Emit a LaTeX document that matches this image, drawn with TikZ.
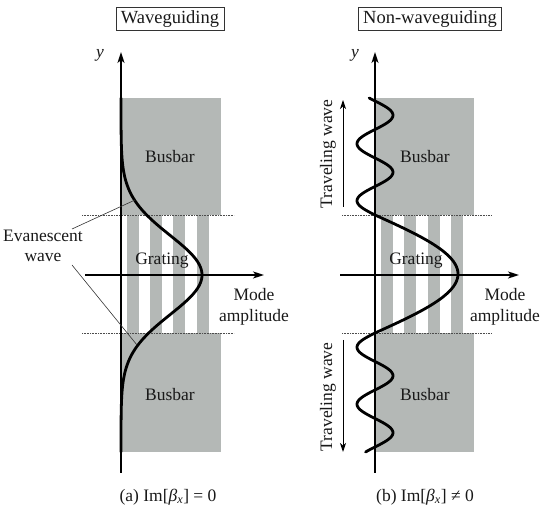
\documentclass[tikz,border=0pt]{standalone}
\usepackage{fontspec}
\setmainfont{Liberation Serif}
\usetikzlibrary{arrows.meta}
\definecolor{busgray}{RGB}{180,184,182}
\begin{document}
\begin{tikzpicture}[x=1pt,y=-1pt,
  lab/.style={font=\fontsize{17.5}{19}\selectfont, text=black!90},
  titlebox/.style={draw=black!80, line width=0.8pt, inner xsep=5pt, inner ysep=3pt, font=\fontsize{18.5}{20}\selectfont, text=black!90},
  axis/.style={line width=1.8pt, -{Stealth[length=11pt,width=7pt,inset=3pt]}},
  wave/.style={line width=2.8pt, line cap=round},
  sep/.style={densely dotted, line width=0.6pt, black!70},
  lead/.style={line width=0.6pt, black!80},
  trav/.style={line width=1pt, -{Stealth[length=9pt,width=6pt,inset=2.5pt]}},
  bar/.style={fill=busgray, draw=none}]
\useasboundingbox (0,0) rectangle (550,518);

% ---------- left panel ----------
\fill[bar] (121,98) rectangle (221,215);
\fill[bar] (121,333) rectangle (221,452);
\foreach \xa in {127,150,173,197}{\fill[bar] (\xa,215) rectangle ++(11.5,118);}
\draw[sep] (82,215) -- (234,215);
\draw[sep] (82,333) -- (234,333);
\coordinate (ayb) at (121,473);
\coordinate (ayt) at (121,52);
\draw[axis] (ayb) -- (ayt);
\coordinate (axl) at (85,275);
\coordinate (axr) at (264,275);
\draw[axis] (axl) -- (axr);
\draw[wave] plot[domain=98:452, samples=200, variable=\t] ({121+81*exp(-1*pow((\t-275)/56,2))}, \t);

\node[titlebox] (ta) at (170,19) {Waveguiding};
\node[lab] (ya) at (100,55) {\itshape y};
\node[lab] (busa1) at (170,157) {Busbar};
\node[lab] (busa2) at (170,395) {Busbar};
\node[lab] (grata) at (162,261) {Grating};
\node[lab, align=center] (modea) at (254,307) {Mode\\[2pt]amplitude};
\node[lab, align=center] (evan) at (43,246) {Evanescent\\[1pt]wave};
\coordinate (ev1) at (72,229);
\coordinate (ev2) at (135,200);
\coordinate (ev3) at (72,265);
\coordinate (ev4) at (137,345);
\draw[lead] (ev1) -- (ev2);
\draw[lead] (ev3) -- (ev4);
\node[lab] (capa) at (168,497) {(a) Im[{\itshape β\textsubscript{x}}] = 0};

% ---------- right panel ----------
\fill[bar] (375,98) rectangle (474,215);
\fill[bar] (375,333) rectangle (474,452);
\foreach \xa in {381,404,428,451}{\fill[bar] (\xa,215) rectangle ++(11.5,118);}
\draw[sep] (342,215) -- (491,215);
\draw[sep] (342,333) -- (491,333);
\coordinate (byb) at (375,473);
\coordinate (byt) at (375,52);
\draw[axis] (byb) -- (byt);
\coordinate (bxl) at (340,275);
\coordinate (bxr) at (519,275);
\draw[axis] (bxl) -- (bxr);
\draw[wave] plot[domain=98:215, samples=120, variable=\t] ({375-18*sin((215-\t)*6.3158)}, \t)
  -- plot[domain=215:333, samples=100, variable=\t] ({375+83*cos((\t-274)*1.5254)}, \t)
  -- plot[domain=333:452, samples=120, variable=\t] ({375-18*sin((\t-333)*6.3158)}, \t);

\node[titlebox] (tb) at (430,19) {Non-waveguiding};
\node[lab] (yb) at (355,55) {\itshape y};
\node[lab] (busb1) at (425,157) {Busbar};
\node[lab] (busb2) at (425,395) {Busbar};
\node[lab] (gratb) at (416,261) {Grating};
\node[lab, align=center] (modeb) at (505,307) {Mode\\[2pt]amplitude};
\coordinate (t1a) at (343,207);
\coordinate (t1b) at (343,100);
\draw[trav] (t1a) -- (t1b);
\node[lab, rotate=90] (trav1) at (328,154) {Traveling wave};
\coordinate (t2a) at (343,340);
\coordinate (t2b) at (343,452);
\draw[trav] (t2a) -- (t2b);
\node[lab, rotate=90] (trav2) at (328,397) {Traveling wave};
\node[lab] (capb) at (425,497) {(b) Im[{\itshape β\textsubscript{x}}] ≠ 0};
\end{tikzpicture}
\end{document}
